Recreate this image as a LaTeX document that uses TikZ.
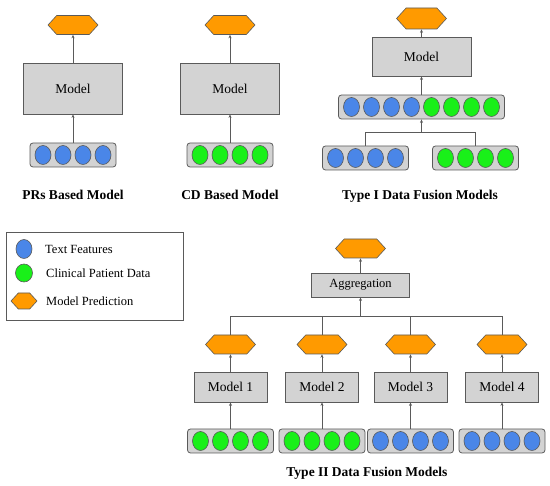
\documentclass[tikz,border=0pt]{standalone}
\usepackage{fontspec}
\setmainfont{Liberation Serif}
\usetikzlibrary{shapes.geometric,shapes.symbols,arrows.meta}
\definecolor{fblue}{HTML}{4A86E8}
\definecolor{fgreen}{HTML}{19F019}
\definecolor{forange}{HTML}{FF9A00}
\definecolor{fgray}{HTML}{D3D3D3}
\definecolor{fline}{HTML}{5A5A5A}
\tikzset{
  modelbox/.style={draw=fline, line width=0.8pt, fill=fgray, inner sep=0, font=\fontsize{13.5}{15}\selectfont},
  vecbox/.style={draw=fline, line width=0.8pt, fill=fgray, rounded corners=3pt, inner sep=0, minimum height=24pt},
  hexnode/.style={signal, signal to=east and west, signal pointer angle=95, draw=fline, line width=0.6pt, fill=forange, inner sep=0, minimum width=50pt, minimum height=19pt},
  fell/.style={ellipse, draw=fline, line width=0.6pt, inner sep=0, minimum width=16pt, minimum height=19pt},
  conn/.style={draw=fline, line width=0.6pt},
  arr/.style={conn, -{Stealth[length=3.5pt,width=3pt]}},
  title/.style={font=\fontsize{13.5}{15}\selectfont\bfseries},
  legtext/.style={font=\fontsize{12.5}{15}\selectfont, anchor=west, inner sep=0}
}
\newcommand{\featrow}[5]{%
  \node[vecbox, minimum width={20*#4+6}] (#1) at (#2,#3) {};
  \foreach \fc [count=\fk] in {#5} {
    \node[fell, fill=\fc] (#1-\fk) at ({#2+20*(\fk-(#4+1)/2)}, #3) {};
  }
}
\begin{document}
\begin{tikzpicture}[x=1pt,y=-1pt]
\useasboundingbox (0,0) rectangle (550,486);
% Panel 1: PRs
\node[hexnode] (h1) at (73,25) {};
\node[modelbox, minimum width=99pt, minimum height=51pt] (m1) at (73,88.5) {Model};
\featrow{v1}{73}{155}{4}{fblue,fblue,fblue,fblue}
\draw[arr] (v1.north) -- (m1.south);
\draw[arr] (m1.north) -- (h1.south);
\node[title] (t1) at (73,195) {PRs Based Model};
% Panel 2: CD
\node[hexnode] (h2) at (230,25) {};
\node[modelbox, minimum width=99pt, minimum height=51pt] (m2) at (230,88.5) {Model};
\featrow{v2}{230}{155}{4}{fgreen,fgreen,fgreen,fgreen}
\draw[arr] (v2.north) -- (m2.south);
\draw[arr] (m2.north) -- (h2.south);
\node[title] (t2) at (230,195) {CD Based Model};
% Panel 3: Type I
\node[hexnode, minimum height=21pt] (h3) at (421.5,18.5) {};
\node[modelbox, minimum width=99pt, minimum height=39pt] (m3) at (421.5,56.5) {Model};
\featrow{v3}{421.5}{107}{8}{fblue,fblue,fblue,fblue,fgreen,fgreen,fgreen,fgreen}
\featrow{v3a}{365.5}{158}{4}{fblue,fblue,fblue,fblue}
\featrow{v3b}{475.5}{158}{4}{fgreen,fgreen,fgreen,fgreen}
\coordinate (j3) at (421.5,132);
\draw[conn] (v3a.north) -- (v3a.north |- j3) -- (v3b.north |- j3) -- (v3b.north);
\draw[arr] (j3) -- (v3.south);
\draw[arr] (v3.north) -- (m3.south);
\draw[arr] (m3.north) -- (h3.south);
\node[title] (t3) at (420,196) {Type I Data Fusion Models};
% Legend
\node[draw=fline, line width=0.8pt, minimum width=177pt, minimum height=88pt, inner sep=0] (legend) at (94.5,276) {};
\node[fell, fill=fblue] (lb) at (24,249) {};
\node[fell, fill=fgreen, minimum width=17pt, minimum height=18pt] (lg) at (24,273) {};
\node[hexnode, minimum width=26pt, minimum height=16pt] (lh) at (24,301) {};
\node[legtext] (lbt) at (45,249) {Text Features};
\node[legtext] (lgt) at (46,273) {Clinical Patient Data};
\node[legtext] (lht) at (46,301) {Model Prediction};
% Type II
\node[hexnode] (ht) at (360.5,248.5) {};
\node[modelbox, minimum width=98pt, minimum height=24pt, font=\fontsize{12.5}{14}\selectfont] (agg) at (360.5,285) {Aggregation};
\draw[arr] (agg.north) -- (ht.south);
\coordinate (j4) at (360.5,316);
\foreach \n/\x/\col in {1/230.5/fgreen,2/322/fgreen,3/410.5/fblue,4/502/fblue} {
  \node[hexnode] (hh\n) at (\x,344.5) {};
  \node[modelbox, minimum width=73pt, minimum height=30pt] (mm\n) at (\x,387) {Model \n};
  \featrow{vv\n}{\x}{441}{4}{\col,\col,\col,\col}
  \draw[arr] (vv\n.north) -- (mm\n.south);
  \draw[arr] (mm\n.north) -- (hh\n.south);
  \draw[conn] (hh\n.north) -- (hh\n.north |- j4);
}
\draw[conn] (hh1.north |- j4) -- (hh4.north |- j4);
\draw[arr] (j4) -- (agg.south);
\node[title] (t4) at (367,473) {Type II Data Fusion Models};
\end{tikzpicture}
\end{document}
